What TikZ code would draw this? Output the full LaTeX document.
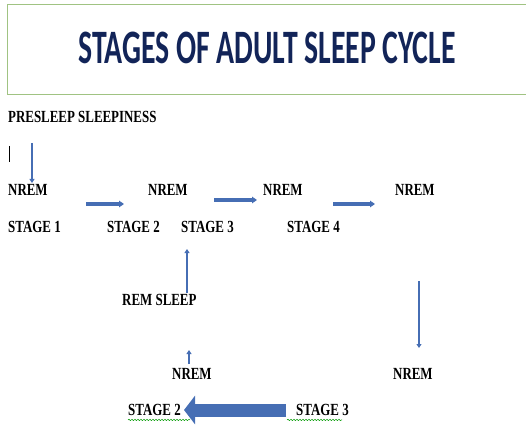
\documentclass[tikz,border=0pt]{standalone}
\usepackage{fontspec}
\setmainfont{Liberation Serif}
\newfontfamily\titlefont[FakeStretch=0.62]{Carlito}
\newfontfamily\labelfont[FakeStretch=0.76]{Liberation Serif}
\usetikzlibrary{arrows.meta, decorations.pathmorphing}
\definecolor{arrowblue}{RGB}{70,110,180}
\definecolor{titlenavy}{RGB}{18,36,88}
\definecolor{framegreen}{RGB}{160,195,130}
\tikzset{
  lbl/.style={anchor=west,inner sep=0pt,font=\labelfont\bfseries\fontsize{17}{17}\selectfont},
  thin/.style={draw=arrowblue,line width=1.8pt,-{Triangle[length=4pt,width=5pt]}},
  thick/.style={draw=arrowblue,line width=3.6pt,-{Triangle[length=5pt,width=6.5pt]}},
  squiggle/.style={draw=green!60!black,line width=0.5pt,decorate,
    decoration={snake,amplitude=0.7pt,segment length=3pt}}
}

\begin{document}
\begin{tikzpicture}[x=1pt,y=-1pt]
\useasboundingbox (0,0) rectangle (526,427);
% title frame, open on the right
\draw[framegreen,line width=1pt] (526,5) -- (7,5) -- (7,95) -- (526,95);
\node[inner sep=0pt,text=titlenavy,font=\titlefont\bfseries\fontsize{48}{48}\selectfont]
  (title) at (267,48) {STAGES OF ADULT SLEEP CYCLE};

% labels
\node[lbl] (pre) at (8,117) {PRESLEEP SLEEPINESS};
\node[lbl] (nrem1) at (8,190) {NREM};
\node[lbl] (st1) at (8,227) {STAGE 1};
\node[lbl] (nrem2) at (148,190) {NREM};
\node[lbl] (st2) at (107,227) {STAGE 2};
\node[lbl] (st3) at (181,227) {STAGE 3};
\node[lbl] (nrem3) at (263,190) {NREM};
\node[lbl] (st4) at (287,227) {STAGE 4};
\node[lbl] (nrem4) at (395,190) {NREM};
\node[lbl] (rem) at (122,300) {REM SLEEP};
\node[lbl] (nrem5) at (393,374) {NREM};
\node[lbl] (nrem6) at (172,374) {NREM};
\node[lbl] (bst2) at (128,410) {STAGE 2};
\node[lbl] (bst3) at (296,410) {STAGE 3};

% cursor mark
\draw[line width=0.9pt] (9,146) -- (9,162);

% arrow ends
\coordinate (a1s) at (32,143);  \coordinate (a1e) at (32,183);
\coordinate (a2s) at (86,204);  \coordinate (a2e) at (124,204);
\coordinate (a3s) at (214,200); \coordinate (a3e) at (257,200);
\coordinate (a4s) at (333,204); \coordinate (a4e) at (375,204);
\coordinate (a5s) at (187,293); \coordinate (a5e) at (187,249);
\coordinate (a6s) at (419,281); \coordinate (a6e) at (419,348);
\coordinate (a7s) at (189,364); \coordinate (a7e) at (189,350);
\coordinate (a8s) at (286,410); \coordinate (a8e) at (184,410);

\draw[thin] (a1s) -- (a1e);
\draw[thick] (a2s) -- (a2e);
\draw[thick] (a3s) -- (a3e);
\draw[thick] (a4s) -- (a4e);
\draw[thin] (a5s) -- (a5e);
\draw[thin] (a6s) -- (a6e);
\draw[thin] (a7s) -- (a7e);
\draw[arrowblue,line width=13pt,-{Triangle[length=11pt,width=28pt]}] (a8s) -- (a8e);

% spelling marks
\draw[squiggle] (bst2.south west) ++(0,4) -- ++(62,0);
\draw[squiggle] (bst3.south west) ++(-9,4) -- ++(55,0);
\end{tikzpicture}
\end{document}
